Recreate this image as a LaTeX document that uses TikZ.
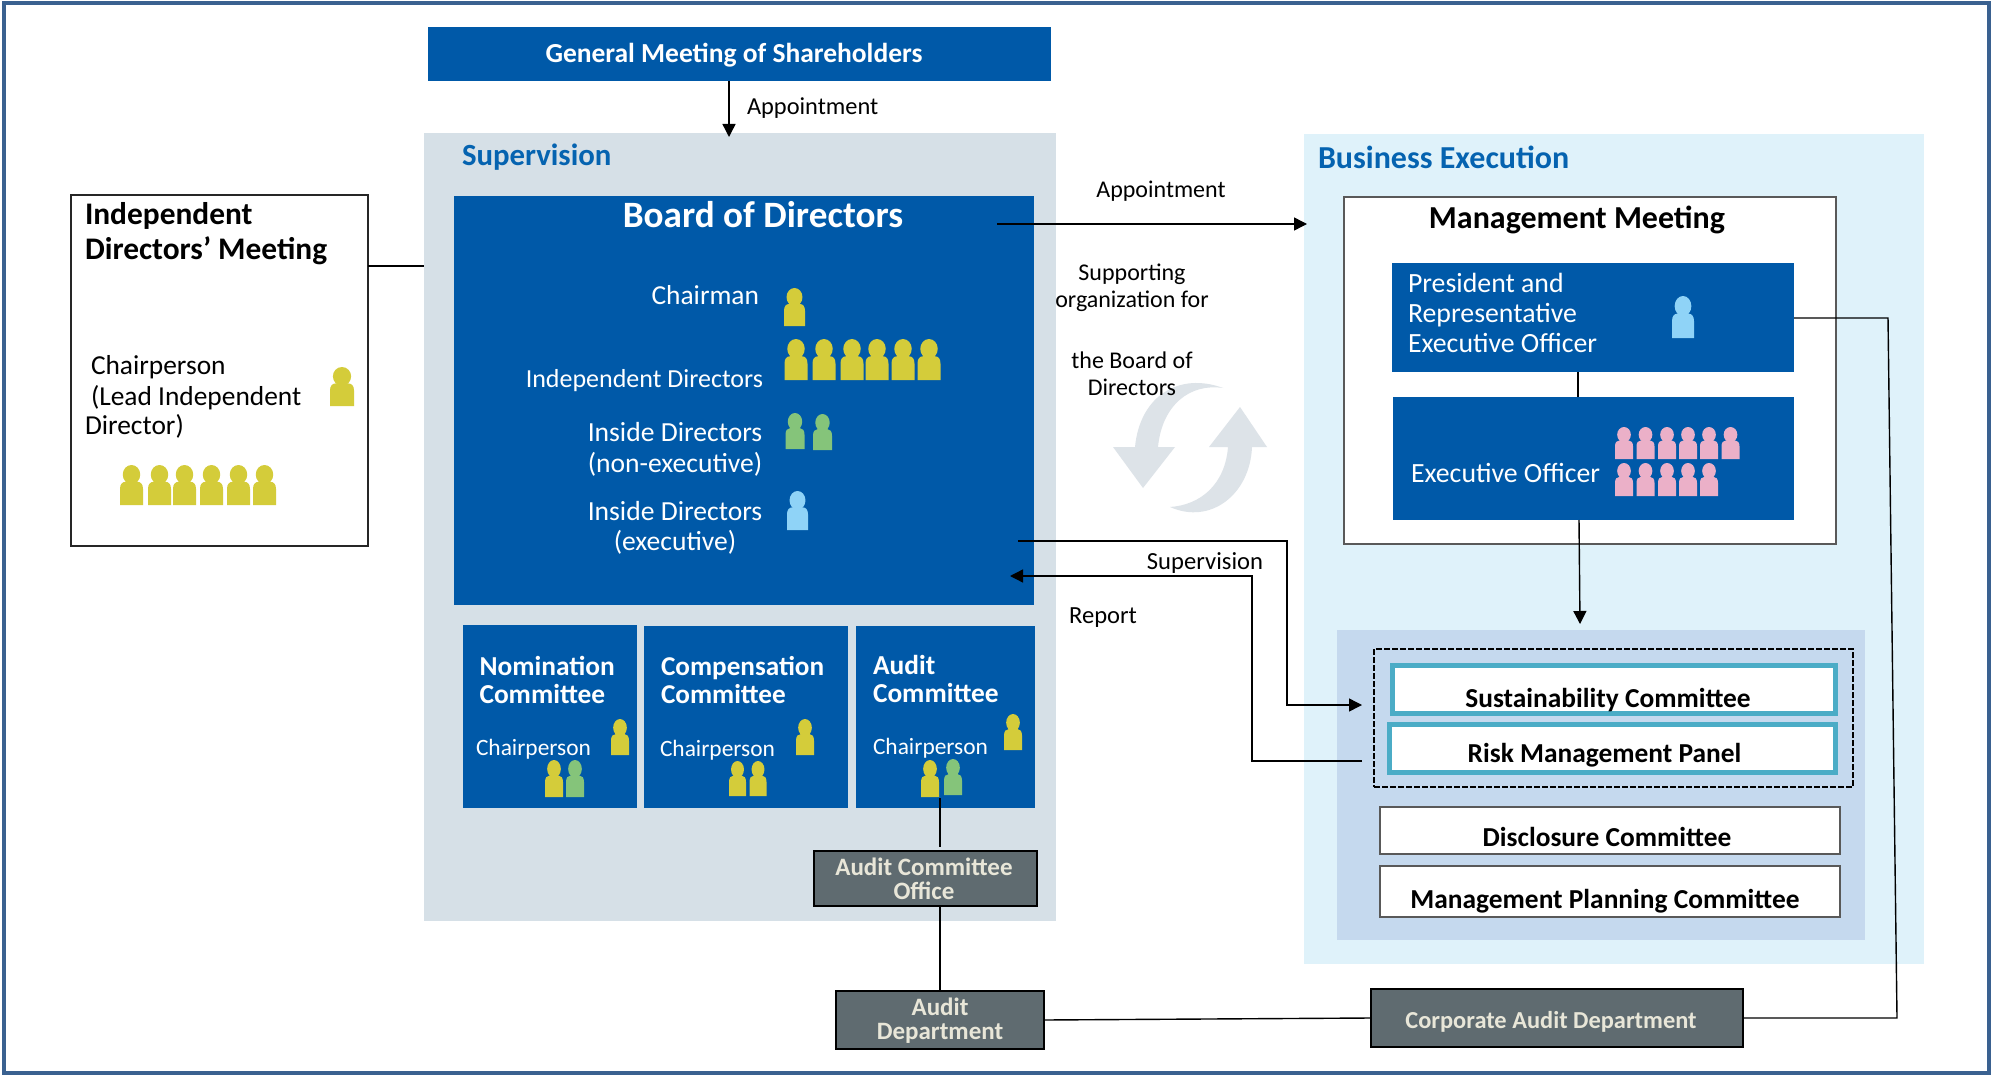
\documentclass[tikz,border=0pt]{standalone}
\usepackage{fontspec}
\setmainfont{Carlito}
\usetikzlibrary{arrows.meta}
\definecolor{frameblue}{HTML}{3A6190}
\definecolor{dblue}{HTML}{0059A8}
\definecolor{headblue}{HTML}{0563B0}
\definecolor{supbg}{HTML}{D6E0E7}
\definecolor{busbg}{HTML}{DFF2FA}
\definecolor{midbg}{HTML}{C5D9EE}
\definecolor{dgrey}{HTML}{5F6B70}
\definecolor{cream}{HTML}{E8E6D8}
\definecolor{tealb}{HTML}{4BACC6}
\definecolor{pyellow}{HTML}{D4CC3A}
\definecolor{pgreen}{HTML}{85C47A}
\definecolor{pblue}{HTML}{8FD3F7}
\definecolor{ppink}{HTML}{EBB0C8}
\definecolor{cyc}{HTML}{DDE3E8}
\newcommand{\rbox}[6]{%
  \pgfmathsetmacro\bw{(#4-#2)*0.5}\pgfmathsetmacro\bh{(#5-#3)*0.5}%
  \node[#6,minimum width=\bw pt,minimum height=\bh pt,inner sep=0pt,outer sep=0pt] (#1) at ({(#2+#4)/2},{(#3+#5)/2}) {};}
\newcommand{\person}[5]{%
  \pgfmathsetmacro\pw{#4*0.5}\pgfmathsetmacro\ph{(#3-#2)*0.5}%
  \begin{scope}[shift={(#1,#2)},x=\pw pt,y=-\ph pt]
    \fill[#5] (0,.24) ellipse [x radius=.38,y radius=.24];
    \fill[#5] (-.5,1) -- (-.5,.6) .. controls (-.5,.48) and (-.4,.42) .. (-.25,.42) -- (.25,.42) .. controls (.4,.42) and (.5,.48) .. (.5,.6) -- (.5,1) -- cycle;
  \end{scope}}
\newcommand{\fs}[1]{\fontsize{#1}{#1}\selectfont}
\tikzset{
  solidbox/.style={fill=#1,draw=none},
  blk/.style={draw=black!85,line width=1pt,fill=white},
  thinbox/.style={draw=black!65,line width=.7pt,fill=white},
  greybox/.style={draw=black,line width=1pt,fill=dgrey},
  tealbox/.style={draw=tealb,line width=2.5pt,fill=white},
  conn/.style={draw=black,line width=.7pt},
  arr/.style={conn,-{Triangle[length=6.5pt,width=6.5pt]}},
  txt/.style={inner sep=0pt,outer sep=0pt,align=center},
  txtl/.style={inner sep=0pt,outer sep=0pt,align=left},
}
\begin{document}
\begin{tikzpicture}[x=0.5pt,y=-0.5pt]
\useasboundingbox (0,0) rectangle (1991,1075);
\fill[white] (0,0) rectangle (1991,1075);
\rbox{frame}{4}{3}{1989}{1073}{draw=frameblue,line width=2pt}
% backgrounds
\rbox{sup}{424}{133}{1056}{921}{solidbox=supbg}
\rbox{bus}{1304}{134}{1924}{964}{solidbox=busbg}
\rbox{mid}{1337}{630}{1865}{940}{solidbox=midbg}
% cycle arrows
\fill[cyc] (1223,388) .. controls (1180,372) and (1140,395) .. (1135,447) -- (1113,447) -- (1143,488) -- (1175,447) -- (1158,447) .. controls (1162,405) and (1190,383) .. cycle;
\fill[cyc] (1170,507) .. controls (1210,525) and (1250,495) .. (1252,447) -- (1267,447) -- (1240,407) -- (1209,447) -- (1228,447) .. controls (1225,485) and (1200,505) .. cycle;
% boxes
\rbox{gm}{428}{27}{1051}{81}{solidbox=dblue}
\rbox{idm}{71}{195}{368}{546}{blk}
\rbox{bod}{454}{196}{1034}{605}{solidbox=dblue}
\rbox{nom}{463}{625}{637}{808}{solidbox=dblue}
\rbox{com}{644}{626}{848}{808}{solidbox=dblue}
\rbox{aud}{856}{626}{1035}{808}{solidbox=dblue}
\rbox{mm}{1344}{197}{1836}{544}{thinbox}
\rbox{pres}{1392}{263}{1794}{372}{solidbox=dblue}
\rbox{exec}{1393}{397}{1794}{520}{solidbox=dblue}
\rbox{dash}{1374}{649}{1853}{787}{draw=black,line width=.7pt,dashed,dash pattern=on 3pt off 1pt}
\rbox{sus}{1392}{665}{1835}{713}{tealbox}
\rbox{risk}{1389}{724}{1835}{772}{tealbox}
\rbox{dis}{1380}{807}{1840}{854}{thinbox}
\rbox{plan}{1380}{866}{1840}{917}{thinbox}
% named ends of connectors
\coordinate (appX) at (729,0);
\coordinate (bodAp) at (997,224);
\coordinate (busAp) at (1307,224);
\coordinate (bodSup) at (1018,541);
\coordinate (supCorner) at (1287,541);
\coordinate (supEnd) at (1362,705);
\coordinate (bodRep) at (1010,576);
\coordinate (repCorner) at (1252,576);
\coordinate (riskOut) at (1362,761);
\coordinate (audX) at (940,0);
\coordinate (audTop) at (940,798);
\coordinate (execX) at (1578,0);
\coordinate (arrX) at (1580,624);
\coordinate (execB) at (1579,520);
\coordinate (presR) at (1794,318);
\coordinate (presC) at (1888,318);
\coordinate (corpC) at (1897,1018);
% grey boxes
\rbox{aco}{814}{851}{1037}{906}{greybox}
\rbox{adp}{836}{991}{1044}{1049}{greybox}
\rbox{cad}{1371}{989}{1743}{1047}{greybox}
% connectors
\draw[arr] (gm.south -| appX) -- ++(0,56);
\draw[conn] (idm.east |- 0,266) -- (sup.west |- 0,266);
\draw[arr] (bodAp) -- (busAp);
\draw[conn] (audTop) -- (aud.south -| audX) -- ++(0,39);
\draw[conn] (aco.south -| audX) -- (adp.north -| audX);
\draw[conn] (pres.south -| execX) -- (exec.north -| execX);
\draw[arr] (execB) -- (arrX);
\draw[arr] (bodSup) -- (supCorner) -- (supCorner |- supEnd) -- (supEnd);
\draw[arr] (riskOut) -- (repCorner |- riskOut) -- (repCorner) -- (bodRep);
\draw[conn] (adp.east) -- (cad.west);
\draw[conn] (presR) -- (presC) -- (corpC) -- (cad.east |- corpC);
% texts
\node[txt,text=white,font=\bfseries\fs{13.75}] (tgm) at (734,55.5) {General Meeting of Shareholders};
\node[txt,anchor=west,font=\fs{12.2}] (tap1) at (747,108) {Appointment};
\node[txt,anchor=west,text=headblue,font=\bfseries\fs{15.4}] (tsup) at (462,157.5) {Supervision};
\node[txt,anchor=west,text=headblue,font=\bfseries\fs{16}] (tbus) at (1318,157) {Business Execution};
\node[txtl,anchor=west,font=\bfseries\fs{15.7}] (tidm) at (85,233.5) {Independent\\[1.5pt]Directors’ Meeting};
\node[txtl,anchor=west,font=\fs{13.7}] (tchp) at (85,397) {\hspace{3pt}Chairperson\\[1.5pt]\hspace{3pt}(Lead Independent\\[1pt]Director)};
\node[txt,text=white,font=\bfseries\fs{18.6}] (tbod) at (763,215) {Board of Directors};
\node[txt,anchor=east,text=white,font=\fs{13.7}] (tcha) at (759,295) {Chairman};
\node[txt,anchor=east,text=white,font=\fs{13}] (tind) at (763,380.5) {Independent Directors};
\node[txt,text=white,font=\fs{13.8}] (tins) at (675,449.3) {Inside Directors\\[1.5pt](non-executive)};
\node[txt,text=white,font=\fs{13.8}] (tinx) at (675,528) {Inside Directors\\[1.2pt](executive)};
\node[txtl,anchor=west,text=white,font=\bfseries\fs{13.7}] (tnom) at (479.5,680) {Nomination\\[.6pt]Committee};
\node[txtl,anchor=west,text=white,font=\bfseries\fs{13.6}] (tcom) at (661,680) {Compensation\\[.6pt]Committee};
\node[txtl,anchor=west,text=white,font=\bfseries\fs{13.7}] (taud) at (873,679) {Audit\\[.6pt]Committee};
\node[txt,anchor=west,text=white,font=\fs{11.7}] (cp1) at (476,749) {Chairperson};
\node[txt,anchor=west,text=white,font=\fs{11.7}] (cp2) at (660,750.5) {Chairperson};
\node[txt,anchor=west,text=white,font=\fs{11.7}] (cp3) at (873,748) {Chairperson};
\node[txt,text=cream,font=\bfseries\fs{12.5}] (taco) at (924,879) {Audit Committee\\[-.5pt]Office};
\node[txt,text=cream,font=\bfseries\fs{12.5}] (tadp) at (940,1021) {Audit\\[-.5pt]Department};
\node[txt,text=cream,font=\bfseries\fs{12.2}] (tcad) at (1551,1022) {Corporate Audit Department};
\node[txt,font=\fs{12}] (tap2) at (1161,191.5) {Appointment};
\node[txt,font=\fs{12}] (tsupp) at (1132,330) {Supporting\\[1.5pt]organization for\\[18.5pt]the Board of\\[1.5pt]Directors};
\node[txt,font=\fs{12.3}] (tsv) at (1205,563) {Supervision};
\node[txt,font=\fs{12.3}] (trep) at (1103,617.5) {Report};
\node[txt,font=\bfseries\fs{16}] (tmm) at (1577,219.5) {Management Meeting};
\node[txtl,anchor=west,text=white,font=\fs{13.9}] (tpres) at (1408,313) {President and\\[1.2pt]Representative\\[.8pt]Executive Officer};
\node[txt,anchor=west,text=white,font=\fs{13.9}] (texe) at (1411,473) {Executive Officer};
\node[txt,font=\bfseries\fs{13.7}] (tsus) at (1608,700) {Sustainability Committee};
\node[txt,font=\bfseries\fs{13.7}] (trisk) at (1604.5,755.5) {Risk Management Panel};
\node[txt,font=\bfseries\fs{13.7}] (tdis) at (1607,837) {Disclosure Committee};
\node[txt,font=\bfseries\fs{13.7}] (tplan) at (1605,901) {Management Planning Committee};
% people
\person{342}{367}{406}{24}{pyellow}
\foreach \c in {131.5,159.5,184.5,211.5,238.5,264.5} {\person{\c}{465}{505}{23}{pyellow}}
\person{794.5}{288}{326}{21}{pyellow}
\foreach \c in {796,824,852,877,903,929} {\person{\c}{339}{380}{23}{pyellow}}
\person{795}{413}{449}{19}{pgreen}
\person{822.5}{414}{450}{19}{pgreen}
\person{797.5}{491}{530}{21}{pblue}
\person{620}{719}{755}{18}{pyellow}
\person{554}{760}{797}{18}{pyellow}
\person{575}{760}{797}{18}{pgreen}
\person{805}{719}{755}{18}{pyellow}
\person{737.5}{761}{796}{17}{pyellow}
\person{758}{761}{796}{17}{pyellow}
\person{1013}{714}{750}{18}{pyellow}
\person{930}{760}{797}{18}{pyellow}
\person{953}{759}{795}{18}{pgreen}
\person{1683}{296}{338}{22}{pblue}
\foreach \c in {1624,1645.5,1667,1688,1709,1730.5} {\person{\c}{427}{459}{18}{ppink}}
\foreach \c in {1624,1645.5,1667,1688,1709} {\person{\c}{463}{496}{18}{ppink}}
\end{tikzpicture}
\end{document}
